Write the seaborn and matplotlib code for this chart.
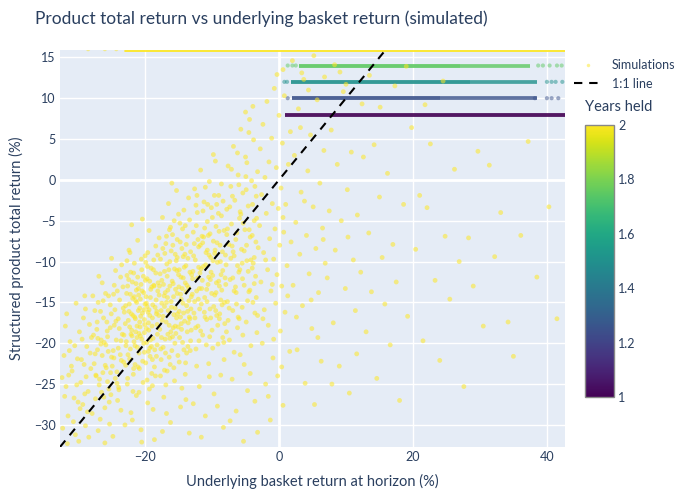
import matplotlib
matplotlib.use("Agg")
import matplotlib.pyplot as plt
import numpy as np
import pandas as pd
import seaborn as sns

from matplotlib.colors import Normalize
from matplotlib.cm import ScalarMappable
from matplotlib.lines import Line2D


TITLE  = "Product total return vs underlying basket return (simulated)"
XLABEL = "Underlying basket return at horizon (%)"
YLABEL = "Structured product total return (%)"

x_ticks    = [-20, 0, 20, 40]
y_ticks    = [15, 10, 5, 0, -5, -10, -15, -20, -25, -30]
cbar_ticks = [1, 1.2, 1.4, 1.6, 1.8, 2]
x_range    = (-32.7, 42.7)
y_range    = (-32.7, 15.9)

# autocall bands: coupon level, years held, dense start, dense end, faded end
band_y      = [8, 10, 12, 14, 16]
band_years  = [1.0, 1.25, 1.5, 1.75, 2.0]
band_start  = [0.9, 2.0, 1.8, 3.0, -23.2]
band_dense  = [42.7, 24.0, 28.5, 27.0, 42.7]
band_faded  = [42.7, 38.5, 38.5, 37.5, 42.7]

# single points read along the band edges / tails (x, y, years)
band_dots = [
    (1.3, 10, 1.25), (38.2, 10, 1.25), (40.0, 10, 1.25), (40.7, 10, 1.25), (41.7, 10, 1.25),
    (0.8, 12, 1.5), (1.2, 12, 1.5), (40.0, 12, 1.5), (40.7, 12, 1.5), (41.3, 12, 1.5), (42.3, 12, 1.5),
    (1.3, 14, 1.75), (2.0, 14, 1.75), (2.5, 14, 1.75), (38.7, 14, 1.75), (39.4, 14, 1.75),
    (40.4, 14, 1.75), (41.5, 14, 1.75), (42.2, 14, 1.75),
    (-28.5, 16, 2.0), (-26.0, 16, 2.0), (-24.3, 16, 2.0),
]

# non-autocalled simulations (held 2 years), read region by region
cloud_far_left = [
    (-32.1, -21.5), (-31.8, -25.3), (-31.5, -28.9), (-31.2, -19.8), (-30.9, -23.4), (-30.6, -26.7),
    (-30.4, -31.2), (-30.1, -21.9), (-29.8, -18.6), (-29.6, -24.8), (-29.3, -27.5), (-29.1, -22.6),
    (-28.9, -30.1), (-28.7, -20.4), (-28.5, -25.9), (-28.3, -17.7), (-28.1, -23.1), (-32.3, -30.4),
    (-31.9, -17.9), (-31.0, -22.8), (-30.7, -29.6), (-30.2, -25.1), (-29.9, -32.0), (-29.4, -19.5),
    (-29.0, -26.2), (-28.6, -28.4), (-28.2, -21.2), (-32.0, -26.5), (-31.4, -23.9), (-30.5, -20.3),
    (-29.7, -28.0), (-29.2, -16.9), (-28.8, -24.1), (-28.4, -31.5), (-31.6, -32.3), (-30.0, -27.2),
    (-28.0, -19.3), (-31.3, -20.9), (-29.5, -22.0), (-28.9, -15.8), (-30.3, -15.1), (-31.7, -16.4),
    (-32.4, -24.2), (-29.0, -14.2),
    (-27.8, -14.2), (-27.6, -22.5), (-27.4, -26.8), (-27.2, -18.3), (-27.0, -30.7), (-26.8, -24.4),
    (-26.6, -20.1), (-26.4, -12.6), (-26.2, -16.9), (-26.0, -27.9), (-25.8, -23.0), (-25.6, -19.2),
    (-25.4, -25.6), (-25.2, -15.3), (-25.0, -21.7), (-24.8, -31.4), (-24.6, -17.8), (-24.4, -11.1),
    (-24.2, -24.9), (-24.0, -20.6), (-23.8, -14.7), (-23.6, -28.2), (-23.4, -18.9), (-23.2, -22.3),
    (-27.9, -28.6), (-27.5, -16.0), (-27.1, -20.8), (-26.7, -29.3), (-26.3, -23.6), (-25.9, -13.9),
    (-25.5, -21.0), (-25.1, -26.3), (-24.7, -14.0), (-24.3, -19.6), (-23.9, -25.7), (-23.5, -10.4),
    (-23.1, -16.2), (-27.3, -24.0), (-26.9, -11.8), (-26.5, -26.0), (-26.1, -19.9), (-25.7, -17.4),
    (-25.3, -29.9), (-24.9, -22.8), (-24.5, -15.9), (-24.1, -27.0), (-23.7, -21.4), (-23.3, -13.1),
    (-27.7, -19.0), (-26.0, -32.2), (-25.0, -9.6), (-24.0, -17.0), (-23.0, -30.0), (-26.4, -21.5),
    (-25.6, -24.7), (-24.6, -12.9), (-23.6, -19.7), (-27.0, -15.0), (-25.2, -18.1), (-24.2, -23.5),
]

cloud_core = [
    (-22.9, -15.4), (-22.8, -19.8), (-22.7, -11.7), (-22.6, -24.3), (-22.5, -17.2), (-22.4, -8.6),
    (-22.3, -21.9), (-22.2, -14.0), (-22.1, -28.5), (-22.0, -18.4), (-21.9, -12.5), (-21.8, -16.6),
    (-21.7, -23.1), (-21.6, -10.2), (-21.5, -20.3), (-21.4, -14.8), (-21.3, -26.4), (-21.2, -17.9),
    (-21.1, -7.4), (-21.0, -13.3), (-20.9, -21.2), (-20.8, -15.7), (-20.7, -19.1), (-20.6, -30.6),
    (-20.5, -11.0), (-20.4, -16.3), (-20.3, -24.8), (-20.2, -13.8), (-20.1, -18.7), (-20.0, -9.3),
    (-19.9, -22.4), (-19.8, -15.1), (-19.7, -12.1), (-19.6, -27.3), (-19.5, -17.5), (-19.4, -6.2),
    (-19.3, -20.6), (-19.2, -14.4), (-19.1, -10.8), (-19.0, -23.7), (-18.9, -16.9), (-18.8, -19.4),
    (-18.7, -12.9), (-18.6, -31.8), (-18.5, -15.6), (-18.4, -8.1), (-18.3, -21.6), (-18.2, -17.7),
    (-18.1, -13.6), (-22.6, -13.0), (-22.2, -20.7), (-21.8, -25.9), (-21.4, -18.6), (-21.0, -16.0),
    (-20.6, -12.8), (-20.2, -20.0), (-19.8, -18.2), (-19.4, -15.9), (-19.0, -13.1), (-18.6, -22.9),
    (-22.4, -16.1), (-21.6, -14.3), (-20.8, -17.4), (-20.0, -15.2), (-19.2, -19.6), (-18.4, -11.4),
    (-22.9, -22.7), (-21.9, -29.4), (-20.9, -26.0), (-19.9, -10.1), (-18.9, -25.2), (-22.0, -5.5),
    (-20.4, -4.8), (-19.6, -8.9), (-18.8, -28.1), (-21.2, -19.3), (-20.7, -14.6), (-19.5, -21.0),
    (-18.3, -16.4), (-22.3, -18.0), (-20.1, -17.1), (-19.3, -12.4), (-21.5, -22.6), (-18.7, -9.8),
    (-20.5, -32.1), (-19.7, -24.5), (-21.1, -11.9), (-22.7, -9.9), (-18.2, -20.2),
    (-17.9, -14.1), (-17.8, -18.3), (-17.7, -9.7), (-17.6, -22.0), (-17.5, -12.3), (-17.4, -4.6),
    (-17.3, -16.7), (-17.2, -26.6), (-17.1, -11.2), (-17.0, -19.5), (-16.9, -7.8), (-16.8, -15.0),
    (-16.7, -23.4), (-16.6, -13.5), (-16.5, -2.9), (-16.4, -17.8), (-16.3, -10.0), (-16.2, -29.7),
    (-16.1, -14.9), (-16.0, -20.9), (-15.9, -6.7), (-15.8, -12.7), (-15.7, -16.5), (-15.6, -24.6),
    (-15.5, -9.1), (-15.4, -18.8), (-15.3, -1.3), (-15.2, -13.9), (-15.1, -21.5), (-15.0, -11.6),
    (-14.9, -16.1), (-14.8, -5.3), (-14.7, -27.8), (-14.6, -14.6), (-14.5, -8.4), (-14.4, -19.9),
    (-14.3, -12.0), (-14.2, -3.7), (-14.1, -17.3), (-14.0, -23.8), (-13.9, -10.5), (-13.8, -15.4),
    (-13.7, -6.9), (-13.6, -20.4), (-13.5, -13.2), (-13.4, -31.0), (-13.3, -17.0), (-13.2, -8.8),
    (-13.1, -14.3), (-17.6, -16.0), (-17.0, -13.8), (-16.4, -21.7), (-15.8, -18.1), (-15.2, -7.3),
    (-14.6, -17.6), (-14.0, -12.6), (-13.4, -16.8), (-17.3, -20.5), (-16.7, -11.8), (-16.1, -8.7),
    (-15.5, -15.7), (-14.9, -22.3), (-14.3, -9.4), (-13.7, -18.6), (-17.9, -7.1), (-16.9, -25.1),
    (-15.9, -19.2), (-14.9, -11.0), (-13.9, -26.9), (-17.4, -30.8), (-16.0, -0.4), (-15.0, -4.2),
    (-14.2, -20.8), (-13.3, -11.3), (-17.1, -15.5), (-16.3, -13.0), (-15.6, -10.9), (-14.7, -14.0),
    (-13.8, -21.2), (-16.6, -18.9), (-15.3, -16.9), (-14.4, -6.0), (-13.6, -9.6), (-17.7, -24.0),
    (-16.8, -28.6), (-15.7, -23.0), (-14.5, -25.5), (-13.5, -2.2), (-13.2, -19.7), (-16.2, -5.8),
    (-12.9, -12.1), (-12.8, -6.4), (-12.7, -16.3), (-12.6, -1.1), (-12.5, -9.8), (-12.4, -20.7),
    (-12.3, -13.6), (-12.2, -4.0), (-12.1, -17.9), (-12.0, -8.2), (-11.9, -25.3), (-11.8, -11.4),
    (-11.7, 1.2), (-11.6, -15.2), (-11.5, -6.9), (-11.4, -19.0), (-11.3, -10.6), (-11.2, -2.7),
    (-11.1, -14.4), (-11.0, -28.9), (-10.9, -8.9), (-10.8, -17.1), (-10.7, -5.1), (-10.6, -12.8),
    (-10.5, -22.5), (-10.4, -0.2), (-10.3, -15.8), (-10.2, -9.5), (-10.1, -3.4), (-10.0, -18.4),
    (-9.9, -11.7), (-9.8, -7.5), (-9.7, -26.2), (-9.6, -14.1), (-9.5, 2.3), (-9.4, -5.7),
    (-9.3, -16.6), (-9.2, -10.1), (-9.1, -20.1), (-9.0, -1.9), (-8.9, -13.0), (-8.8, -8.0),
    (-8.7, -23.9), (-8.6, -4.4), (-8.5, -15.3), (-8.4, -11.1), (-8.3, -30.3), (-8.2, -6.2),
    (-8.1, -17.6), (-12.6, -14.9), (-12.0, -10.7), (-11.4, -7.7), (-10.8, -13.4), (-10.2, -16.9),
    (-9.6, -9.0), (-9.0, -12.4), (-8.4, -19.3), (-12.3, -22.8), (-11.7, -18.5), (-11.1, -5.9),
    (-10.5, -11.9), (-9.9, -20.6), (-9.3, -3.0), (-8.7, -14.7), (-12.8, -27.4), (-11.6, -31.5),
    (-10.4, -24.1), (-9.2, -27.7), (-8.2, -22.0), (-12.4, -3.1), (-11.0, -0.9), (-9.8, 3.1),
    (-8.6, -0.5), (-12.1, -7.3), (-10.7, -8.6), (-9.4, -13.8), (-8.0, -9.2), (-11.9, -13.3),
    (-10.3, -6.6), (-8.9, -17.0),
]

# extra points where the reference cloud is densest
cloud_dense = [
    (-27.45, -21.3), (-27.15, -17.4), (-26.85, -25.1), (-26.55, -19.6), (-26.25, -14.8), (-25.95, -22.7),
    (-25.65, -18.5), (-25.35, -27.2), (-25.05, -16.4), (-24.75, -20.9), (-24.45, -24.3), (-24.15, -13.6),
    (-23.85, -18.2), (-23.55, -22.1), (-23.25, -15.7), (-27.35, -23.9), (-26.65, -16.1), (-25.85, -20.2),
    (-25.15, -23.6), (-24.35, -17.3), (-23.65, -11.9), (-27.05, -19.4), (-26.15, -26.6), (-25.45, -14.2),
    (-24.65, -21.8), (-23.95, -25.4), (-23.15, -19.0),
    (-22.95, -17.6), (-22.75, -13.9), (-22.55, -21.4), (-22.35, -15.2), (-22.15, -11.3), (-21.95, -19.1),
    (-21.75, -23.8), (-21.55, -16.8), (-21.35, -12.7), (-21.15, -20.5), (-20.95, -14.1), (-20.75, -18.0),
    (-20.55, -9.7), (-20.35, -22.2), (-20.15, -15.9), (-19.95, -12.3), (-19.75, -19.9), (-19.55, -16.2),
    (-19.35, -25.6), (-19.15, -13.4), (-18.95, -17.9), (-18.75, -11.0), (-18.55, -20.8), (-18.35, -14.7),
    (-18.15, -18.9), (-22.85, -20.3), (-22.45, -12.2), (-22.05, -16.4), (-21.65, -19.8), (-21.25, -15.0),
    (-20.85, -23.1), (-20.45, -13.6), (-20.05, -17.7), (-19.65, -10.6), (-19.25, -21.6), (-18.85, -15.3),
    (-18.45, -24.0), (-18.05, -12.6), (-22.65, -25.0), (-22.25, -8.9), (-21.85, -14.5), (-21.45, -17.0),
    (-21.05, -22.9), (-20.65, -16.7), (-20.25, -11.8), (-19.85, -14.3), (-19.45, -18.4), (-19.05, -20.4),
    (-18.65, -13.0), (-18.25, -16.1), (-22.1, -18.9), (-21.3, -13.5), (-20.5, -19.5), (-19.7, -15.5),
    (-18.9, -22.0), (-18.1, -9.2), (-21.7, -11.4), (-20.9, -18.8), (-20.1, -21.1), (-19.3, -16.6),
    (-17.95, -16.6), (-17.75, -11.5), (-17.55, -19.3), (-17.35, -8.4), (-17.15, -14.2), (-16.95, -21.2),
    (-16.75, -10.3), (-16.55, -16.0), (-16.35, -6.1), (-16.15, -18.6), (-15.95, -12.4), (-15.75, -14.3),
    (-15.55, -20.0), (-15.35, -9.9), (-15.15, -16.4), (-14.95, -13.1), (-14.75, -7.6), (-14.55, -18.3),
    (-14.35, -15.1), (-14.15, -10.7), (-13.95, -22.4), (-13.75, -12.9), (-13.55, -17.5), (-13.35, -4.9),
    (-13.15, -15.8), (-17.85, -13.0), (-17.45, -17.2), (-17.05, -9.0), (-16.65, -14.4), (-16.25, -22.6),
    (-15.85, -8.0), (-15.45, -13.4), (-15.05, -18.0), (-14.65, -11.9), (-14.25, -16.3), (-13.85, -7.9),
    (-13.45, -14.8), (-13.05, -11.6), (-17.65, -20.7), (-17.25, -12.8), (-16.85, -17.4), (-16.45, -11.0),
    (-16.05, -15.6), (-15.65, -5.0), (-15.25, -11.1), (-14.85, -19.3), (-14.45, -13.3), (-14.05, -9.1),
    (-13.65, -16.1), (-13.25, -20.9), (-17.1, -23.3), (-16.3, -19.4), (-15.5, -17.9), (-14.7, -16.8),
    (-13.9, -13.7), (-13.1, -18.4), (-16.8, -6.9), (-15.2, -9.5), (-14.0, -5.6), (-17.5, -15.1),
    (-12.95, -14.0), (-12.75, -9.3), (-12.55, -16.9), (-12.35, -5.6), (-12.15, -12.0), (-11.95, -19.7),
    (-11.75, -8.0), (-11.55, -13.3), (-11.35, -3.8), (-11.15, -16.2), (-10.95, -10.4), (-10.75, -14.9),
    (-10.55, -6.8), (-10.35, -19.2), (-10.15, -11.3), (-9.95, -4.6), (-9.75, -15.5), (-9.55, -8.6),
    (-9.35, -12.6), (-9.15, -17.8), (-8.95, -6.3), (-8.75, -10.0), (-8.55, -13.5), (-8.35, -2.6),
    (-8.15, -15.0), (-12.85, -11.2), (-12.45, -18.1), (-12.05, -14.6), (-11.65, -10.9), (-11.25, -7.0),
    (-10.85, -20.2), (-10.45, -9.2), (-10.05, -13.9), (-9.65, -1.9), (-9.25, -7.7), (-8.85, -16.4),
    (-8.45, -8.8), (-8.05, -12.0), (-12.65, -7.8), (-12.25, -1.9), (-11.85, -15.8), (-11.45, -12.3),
    (-11.05, -16.8), (-10.65, -3.0), (-10.25, -12.2), (-9.85, -9.9), (-9.45, -16.0), (-9.05, -4.1),
    (-8.65, -11.6), (-8.25, -19.9),
    (-7.95, -12.8), (-7.7, -6.0), (-7.45, -15.7), (-7.2, -9.6), (-6.95, -2.0), (-6.7, -13.6),
    (-6.45, -7.3), (-6.2, -10.5), (-5.95, -17.0), (-5.7, -4.2), (-5.45, -12.1), (-5.2, -8.7),
    (-4.95, 0.4), (-4.7, -14.8), (-4.45, -6.1), (-4.2, -9.8), (-3.95, -3.0), (-3.7, -12.7),
    (-3.45, -7.6), (-3.2, -16.6), (-7.85, -18.6), (-7.35, -3.3), (-6.85, -8.8), (-6.35, -15.2),
    (-5.85, -11.0), (-5.35, -5.3), (-4.85, -8.0), (-4.35, -13.5), (-3.85, -10.2), (-3.35, -4.7),
    (-7.1, 1.3), (-6.0, -0.6), (-4.8, 2.1), (-3.6, -0.8),
]

cloud_near_zero = [
    (-7.9, -10.4), (-7.8, -3.6), (-7.7, -14.9), (-7.6, 1.7), (-7.5, -7.9), (-7.4, -19.6),
    (-7.3, -12.2), (-7.2, -0.8), (-7.1, -5.4), (-7.0, -24.4), (-6.9, -16.0), (-6.8, 4.1),
    (-6.7, -9.3), (-6.6, -2.5), (-6.5, -13.1), (-6.4, -28.3), (-6.3, -6.5), (-6.2, -18.1),
    (-6.1, 0.6), (-6.0, -11.3), (-5.9, -4.7), (-5.8, -21.4), (-5.7, 6.2), (-5.6, -8.5),
    (-5.5, -15.6), (-5.4, -1.6), (-5.3, -32.0), (-5.2, -12.9), (-5.1, -6.1), (-5.0, 2.8),
    (-4.9, -17.4), (-4.8, -9.9), (-4.7, -25.8), (-4.6, -3.2), (-4.5, -13.7), (-4.4, 7.4),
    (-4.3, -7.0), (-4.2, -20.3), (-4.1, -0.1), (-4.0, -10.8), (-3.9, -15.0), (-3.8, 4.9),
    (-3.7, -5.0), (-3.6, -27.1), (-3.5, -11.8), (-3.4, -2.0), (-3.3, -18.7), (-3.2, 1.0),
    (-3.1, -8.3), (-7.6, -17.2), (-7.0, -8.1), (-6.4, -13.8), (-5.8, -3.9), (-5.2, -22.6),
    (-4.6, -11.2), (-4.0, -6.8), (-3.4, -14.4), (-7.3, -29.5), (-6.7, -21.1), (-6.1, -16.8),
    (-5.5, -10.2), (-4.9, -1.2), (-4.3, -23.7), (-3.7, -9.5), (-3.2, -30.9), (-7.8, -6.7),
    (-6.9, -12.0), (-6.2, 3.3), (-5.4, -19.0), (-4.5, 5.8), (-3.6, -16.3), (-5.0, 8.3),
    (-3.9, 9.0),
    (-2.9, -5.6), (-2.8, 3.8), (-2.7, -12.5), (-2.6, -1.8), (-2.5, -20.0), (-2.4, 6.8),
    (-2.3, -8.9), (-2.2, -15.9), (-2.1, 0.3), (-2.0, -25.0), (-1.9, -4.1), (-1.8, 9.6),
    (-1.7, -11.0), (-1.6, -17.8), (-1.5, 2.2), (-1.4, -7.2), (-1.3, -29.4), (-1.2, -13.6),
    (-1.1, 5.1), (-1.0, -2.9), (-0.9, -21.8), (-0.8, -9.7), (-0.7, 11.2), (-0.6, -6.0),
    (-0.5, -15.1), (-0.4, 1.5), (-0.3, -11.6), (-0.2, -24.0), (-0.1, -3.5), (0.0, 7.9),
    (0.1, -8.0), (0.2, -18.5), (0.3, -1.0), (0.4, -13.0), (0.5, 4.5), (0.6, -27.6),
    (0.7, -6.4), (0.8, 10.3), (0.9, -16.2), (1.0, -3.0), (1.2, -10.5), (1.4, 1.9),
    (1.6, -21.0), (1.8, -7.6), (-2.4, -17.0), (-1.6, -26.5), (-0.8, -19.5), (0.4, -22.9),
    (1.3, -14.2), (-2.0, -9.8), (-1.0, -12.8), (0.6, -4.6), (1.7, 5.9), (-0.3, 12.9),
]

cloud_right = [
    (2.1, -12.9), (2.3, 3.0), (2.5, -5.2), (2.7, -20.8), (2.9, 8.7), (3.1, -9.1),
    (3.3, -1.5), (3.5, -15.4), (3.7, 12.3), (3.9, -24.9), (4.1, -6.8), (4.3, 1.1),
    (4.5, -11.5), (4.7, 5.5), (4.9, -18.2), (5.1, -3.3), (5.3, -27.5), (5.5, -8.4),
    (5.7, 9.8), (5.9, -13.8), (6.1, -0.4), (6.3, -22.2), (6.5, -5.9), (6.7, 3.6),
    (6.9, -10.2), (2.6, -16.8), (3.8, -2.6), (4.8, -14.7), (5.8, -19.3), (6.6, -7.3),
    (3.2, 6.4), (4.4, 11.0),
    (7.2, -12.0), (7.5, -3.8), (7.8, 6.1), (8.1, -17.5), (8.4, -8.6), (8.7, 1.9),
    (9.0, -22.8), (9.3, -5.0), (9.6, 10.8), (9.9, -13.3), (10.2, -1.2), (10.5, -26.1),
    (10.8, 3.4), (11.1, -9.8), (11.4, -16.0), (11.7, -4.3), (7.9, -25.0), (9.1, 13.2),
    (10.3, -7.0), (11.6, -21.3),
    (12.2, -11.3), (12.6, 2.8), (13.0, -18.6), (13.4, -6.5), (13.8, -13.7), (14.2, 4.3),
    (14.6, -24.3), (15.0, -2.1), (15.4, -9.5), (15.8, -15.2), (16.2, 0.8), (16.6, -20.2),
    (17.0, -7.9), (17.5, -12.5), (18.0, -27.0), (18.6, -3.0), (19.2, -16.7), (19.8, 6.4),
    (0.6, 13.5), (2.0, 14.6), (3.4, 13.1), (5.2, 15.2), (6.8, 12.6), (8.3, 14.1),
    (10.0, 11.7), (12.4, 9.3), (13.5, 12.8), (15.1, 8.9), (17.3, 11.5), (19.0, 13.9),
    (21.8, 9.2), (24.5, 12.1),
]

cloud_sparse = [
    (20.4, -8.5), (21.0, -1.9), (21.5, -19.7), (22.1, -3.4), (22.6, 4.4), (23.3, -12.3),
    (24.0, -22.1), (24.8, -6.9), (25.5, -14.6), (26.2, 1.3), (26.9, -10.0), (27.6, -25.3),
    (28.3, -7.1), (29.0, -13.0), (29.7, 3.5), (30.5, -17.9), (31.4, 1.8), (32.2, -9.4),
    (33.1, -4.0), (34.2, -17.4), (35.0, -21.6), (36.1, -6.8), (37.2, 4.7), (38.5, -11.9),
    (40.3, -3.3), (41.5, -17.0),
]


font_color = "#2a3f5f"

sns.set_theme(style="darkgrid", rc={
    "axes.facecolor": "#E5ECF6",
    "grid.color": "white",
    "grid.linewidth": 1.0,
    "axes.edgecolor": "#E5ECF6",
})
plt.rcParams["font.family"] = ["Lato", "DejaVu Sans"]

cmap = plt.get_cmap("viridis")
norm = Normalize(vmin=1, vmax=2)

cloud = cloud_far_left + cloud_core + cloud_dense + cloud_near_zero + cloud_right + cloud_sparse
df = pd.DataFrame(cloud, columns=["basket", "product"])
df["years"] = 2.0

dots = pd.DataFrame(band_dots, columns=["basket", "product", "years"])

fig = plt.figure(figsize=(7, 5), dpi=100)
ax = fig.add_axes([60 / 700, 53 / 500, 505 / 700, 397 / 500])

# zero lines a bit heavier, like plotly
ax.axvline(0, color="white", lw=2, zorder=0.8)
ax.axhline(0, color="white", lw=2, zorder=0.8)

# autocall bands: whole run, then the dense part again on top
for y, yrs, x0, x1, x2 in zip(band_y, band_years, band_start, band_dense, band_faded):
    col = cmap(norm(yrs))
    lw = 3.6 if y == 16 else 2.7
    ax.hlines(y, x0, x2, color=col, lw=lw, alpha=0.8, zorder=2)
    ax.hlines(y, x0, x1, color=col, lw=lw, alpha=0.5, zorder=2)

sns.scatterplot(data=dots, x="basket", y="product", hue="years", palette="viridis",
                hue_norm=(1, 2), s=9, alpha=0.5, linewidth=0, legend=False, ax=ax, zorder=2)

sns.scatterplot(data=df, x="basket", y="product", hue="years", palette="viridis",
                hue_norm=(1, 2), s=12, alpha=0.55, linewidth=0, legend=False, ax=ax, zorder=3)

# 1:1 reference line
ax.plot(list(x_range), list(x_range), color="black", lw=1.5, dashes=(4, 3.3), zorder=4)

ax.set_xlim(*x_range)
ax.set_ylim(*y_range)
ax.set_xticks(x_ticks)
ax.set_yticks(y_ticks)
ax.tick_params(length=0, labelsize=9, labelcolor=font_color, pad=3)
for s in ax.spines.values():
    s.set_visible(False)

ax.set_xlabel(XLABEL, fontsize=10.5, color=font_color)
ax.set_ylabel(YLABEL, fontsize=10.5, color=font_color)
ax.xaxis.set_label_coords(0.5, -(481 - 447) / 397)
ax.xaxis.label.set_va("center")
ax.yaxis.set_label_coords(-(60 - 16) / 505, 0.5)
ax.yaxis.label.set_va("center")

fig.text(35 / 700, 1 - 19 / 500, TITLE, fontsize=12.5, color=font_color, va="center")

# legend
handles = [
    Line2D([], [], marker="o", ls="none", markersize=2.5, color=cmap(norm(2.0)), alpha=0.5,
           markeredgewidth=0),
    Line2D([], [], color="black", lw=1.5, dashes=(4, 3.3)),
]
fig.legend(handles, ["Simulations", "1:1 line"], loc="upper left",
           bbox_to_anchor=(563 / 700, 1 - 48 / 500), frameon=False, fontsize=9,
           labelcolor=font_color, handlelength=2.2, handletextpad=0.8, labelspacing=0.5)

# colorbar
cax = fig.add_axes([585 / 700, 103 / 500, 29 / 700, 272 / 500])
cb = fig.colorbar(ScalarMappable(norm=norm, cmap=cmap), cax=cax, ticks=cbar_ticks)
cb.ax.set_yticklabels([f"{t:g}" for t in cbar_ticks])
cb.ax.tick_params(length=0, labelsize=9, labelcolor=font_color, pad=3)
cb.outline.set_edgecolor("#888888")
cb.outline.set_linewidth(1)
fig.text(585 / 700, 1 - 107 / 500, "Years held", fontsize=10.5, color=font_color, va="center")

fig.savefig("out.png", dpi=100)
